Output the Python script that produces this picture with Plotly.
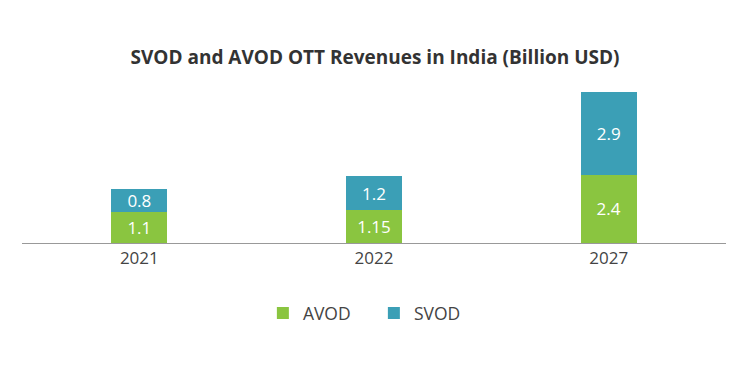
import plotly.graph_objects as go

years = ["2021", "2022", "2027"]
avod = [1.1, 1.15, 2.4]
svod = [0.8, 1.2, 2.9]

green = "#8AC540"
teal = "#3B9FB6"

fig = go.Figure()
fig.add_trace(go.Bar(name="AVOD", x=years, y=avod, marker_color=green,
                     marker_line_width=0,
                     text=[str(v) for v in avod], textposition="inside",
                     insidetextanchor="middle", constraintext="none",
                     textfont=dict(color="white", size=17, family="Open Sans")))
fig.add_trace(go.Bar(name="SVOD", x=years, y=svod, marker_color=teal,
                     marker_line_width=0,
                     text=[str(v) for v in svod], textposition="inside",
                     insidetextanchor="middle", constraintext="none",
                     textfont=dict(color="white", size=17, family="Open Sans")))

fig.update_layout(
    barmode="stack",
    width=750, height=375,
    margin=dict(l=22, r=24, t=80, b=132, autoexpand=False),
    plot_bgcolor="white", paper_bgcolor="white",
    bargap=0.76,
    font=dict(family="Open Sans", color="#444"),
    title=dict(text="<b>SVOD and AVOD OTT Revenues in India (Billion USD)</b>",
               x=0.5, xanchor="center", y=0.848, yanchor="middle",
               font=dict(size=19, color="#333", family="Open Sans")),
    legend=dict(orientation="h", x=0.4985, xanchor="center", xref="container",
                y=0.165, yanchor="middle", yref="container",
                font=dict(size=17.5, color="#444"), itemwidth=30,
                traceorder="normal", entrywidth=66),
    showlegend=True,
)
fig.update_xaxes(showline=True, linecolor="#999", linewidth=1, ticks="",
                 tickfont=dict(size=17, color="#444"), showgrid=False)
fig.update_yaxes(range=[0, 5.72], visible=False, showgrid=False)

fig.write_html("out.html", config={"displayModeBar": False},
               post_script="document.body.style.margin='0';")
